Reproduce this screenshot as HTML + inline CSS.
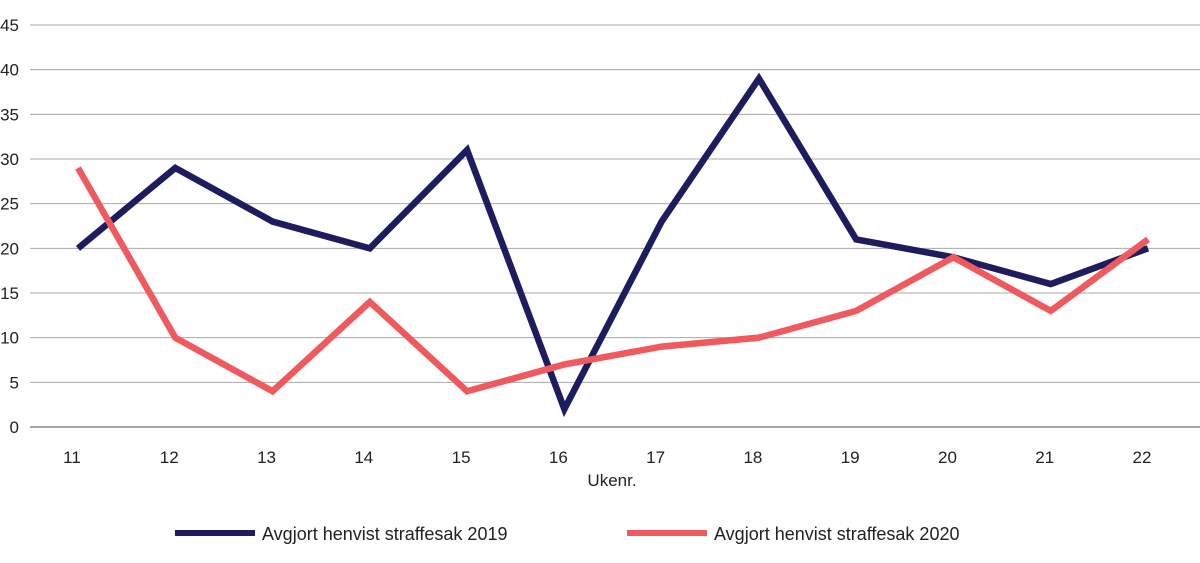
<!DOCTYPE html>
<html><head><meta charset="utf-8">
<style>
html,body{margin:0;padding:0;background:#fff;}
svg{display:block;font-family:"Liberation Sans",sans-serif;}
</style></head>
<body>
<svg id="chart" width="1200" height="563" viewBox="0 0 1200 563" xmlns="http://www.w3.org/2000/svg"></svg>
<script>
const categories = ["11","12","13","14","15","16","17","18","19","20","21","22"];
const series2019 = [20,29,23,20,31,2,23,39,21,19,16,20];
const series2020 = [29,10,4,14,4,7,9,10,13,19,13,21];
const yTicks = [0,5,10,15,20,25,30,35,40,45];
const seriesNames = ["Avgjort henvist straffesak 2019","Avgjort henvist straffesak 2020"];

const svg = document.getElementById('chart');
const NS = 'http://www.w3.org/2000/svg';
const x0 = 30, x1 = 1200, yBottom = 427, yTop = 25;
function xScale(i){ return 78 + i * (1148 - 78) / (categories.length - 1); }
function yScale(v){ return yBottom - v * (yBottom - yTop) / 45; }
function mk(tag, attrs){ const e = document.createElementNS(NS, tag); for (const k in attrs) e.setAttribute(k, attrs[k]); svg.appendChild(e); return e; }

yTicks.forEach(t => {
  const g = mk('line', {x1:x0, x2:x1, y1:yScale(t), y2:yScale(t), stroke: t===0 ? '#8a8a8a' : '#aaaaaa', 'stroke-width': t===0 ? 1.5 : 1});
  
  
  const l = mk('text', {x:19, y:yScale(t)+6, 'text-anchor':'end', 'font-size':17, fill:'#222'});
  l.textContent = t;
  
  
});

categories.forEach((c, i) => {
  const l = mk('text', {x:xScale(i)-6, y:463, 'text-anchor':'middle', 'font-size':17, fill:'#222'});
  l.textContent = c;
  
  
});
const xt = mk('text', {x:612, y:486, 'text-anchor':'middle', 'font-size':17, fill:'#222'});
xt.textContent = 'Ukenr.';



const colors = ['#1c1c5f', '#f05a5e'];
[series2019, series2020].forEach((s, k) => {
  const pts = s.map((v, i) => xScale(i) + ',' + yScale(v)).join(' ');
  const p = mk('polyline', {points:pts, fill:'none', stroke:colors[k], 'stroke-width':6.5, 'stroke-linejoin':'miter', 'stroke-miterlimit':10});
  
  
});

const legX = [175, 627];
seriesNames.forEach((n, k) => {
  const ln = mk('line', {x1:legX[k], x2:legX[k]+80, y1:533, y2:533, stroke:colors[k], 'stroke-width':6});
  
  
  const t = mk('text', {x:legX[k]+87, y:540, 'font-size':18, fill:'#222'});
  t.textContent = n;
  
  
});
</script>
</body></html>
